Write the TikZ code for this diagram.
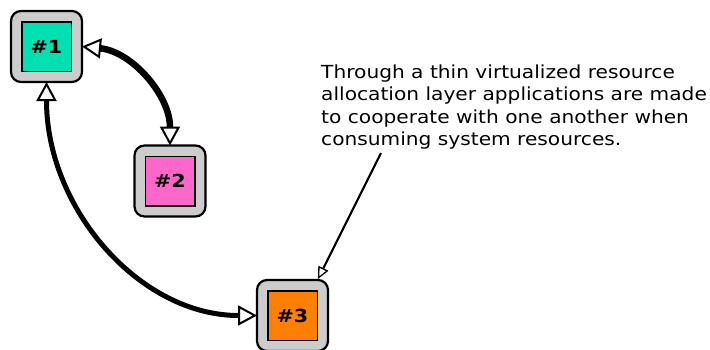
\documentclass[tikz,border=0pt]{standalone}
\usepackage{fontspec}
\setmainfont{DejaVu Sans}
\newfontfamily\notefont[FakeStretch=1.12]{DejaVu Sans}
\newfontfamily\labelfont[FakeStretch=1.15]{DejaVu Sans Bold}
\usetikzlibrary{arrows.meta}
\definecolor{boxgray}{HTML}{CCCCCC}
\definecolor{cone}{HTML}{00E0B0}
\definecolor{ctwo}{HTML}{FF66CC}
\definecolor{cthree}{HTML}{FF8000}
\tikzset{
  outerbox/.style={draw=black, line width=2.2pt, fill=boxgray, rounded corners=10pt,
    minimum size=71pt, inner sep=0pt, outer sep=0pt},
  innerbox/.style={draw=black, line width=1.5pt, minimum size=49.5pt, inner sep=0pt,
    font=\fontsize{18}{20}\labelfont},
  bothtips/.style={{Triangle[fill=white, line width=2pt, length=19pt, width=20pt]}-{Triangle[fill=white, line width=2pt, length=19pt, width=20pt]}},
  smalltip/.style={-{Triangle[fill=white, line width=1.3pt, length=12pt, width=11pt]}},
  note/.style={font=\fontsize{18}{22.5}\notefont, align=left, inner sep=0pt, anchor=north west}
}
\begin{document}
\begin{tikzpicture}[x=1pt, y=-1pt]
\useasboundingbox (0,0) rectangle (710,349);
\begin{scope}
\clip (0,0) rectangle (710,349);
\node[outerbox] (b1) at (46.5,46.5) {};
\node[innerbox, fill=cone] (i1) at (b1) {\#1};
\node[outerbox] (b2) at (170,181) {};
\node[innerbox, fill=ctwo] (i2) at (b2) {\#2};
\node[outerbox] (b3) at (292.5,315.5) {};
\node[innerbox, fill=cthree] (i3) at (b3) {\#3};
\end{scope}
\node[note] (txt) at (321,64.5) {Through a thin virtualized resource\\allocation layer applications are made\\to cooperate with one another when\\consuming system resources.};
\coordinate (ns) at (381,153);
\draw[bothtips, line width=6.5pt] (b1.east) .. controls +(50,5) and +(0,-50) .. (b2.north);
\draw[bothtips, line width=5pt] (b1.south) .. controls +(0,127) and +(-117,0) .. (b3.west);
\draw[smalltip, line width=2.2pt] (ns) -- ([xshift=25.5pt,yshift=1pt]b3.north);
\end{tikzpicture}
\end{document}
